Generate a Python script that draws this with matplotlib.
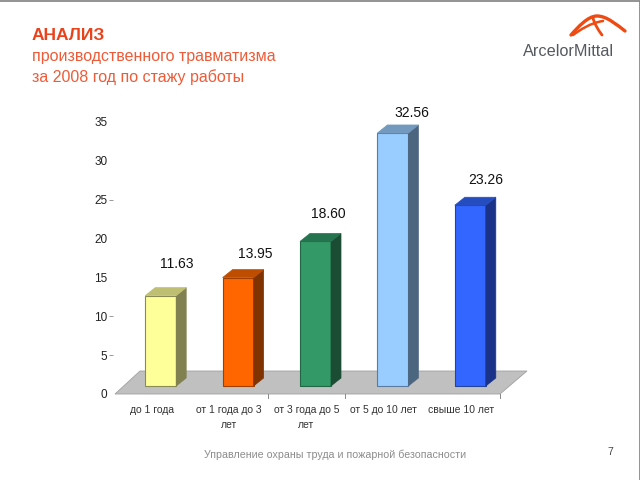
import matplotlib
matplotlib.use("Agg")
import matplotlib.pyplot as plt
from matplotlib.patches import Polygon, PathPatch
from matplotlib.path import Path
from matplotlib.transforms import ScaledTranslation, offset_copy

plt.rcParams['font.family'] = ['Liberation Sans', 'DejaVu Sans']

categories = ["до 1 года", "от 1 года до 3\nлет", "от 3 года до 5\nлет", "от 5 до 10 лет", "свыше 10 лет"]
values = [11.63, 13.95, 18.60, 32.56, 23.26]
value_labels = ["11.63", "13.95", "18.60", "32.56", "23.26"]
front_colors = ["#FFFF99", "#FF6600", "#339966", "#99CCFF", "#3366FF"]
top_colors = ["#BFBF73", "#BF4D00", "#267350", "#7399BF", "#264DBF"]
side_colors = ["#808050", "#803300", "#1A4D33", "#4D6680", "#1A3388"]
edge_colors = ["#8A8A55", "#A04000", "#226644", "#5A7AA0", "#224499"]
y_ticks = [0, 5, 10, 15, 20, 25, 30, 35]
visible_tick_values = [5, 10, 25]
label_nudge_x = [-1, 0, -4, 2, -2]
label_nudge_y = [6, -2, 2, -5, 0]

W, H = 640, 480
fig = plt.figure(figsize=(6.4, 4.8), dpi=100, facecolor="white")

# page layer in pixel coordinates
bg = fig.add_axes([0, 0, 1, 1])
bg.set_xlim(0, W); bg.set_ylim(H, 0); bg.axis("off")
bg.plot([0, W, W], [0.5, 0.5, H], color="#808080", lw=1.2)
bg.text(32, 35.5, "АНАЛИЗ", color="#EA431C", fontsize=12.5, fontweight="bold", ha="left", va="center")
bg.text(32, 57, "производственного травматизма", color="#EE5B38", fontsize=11.55, ha="left", va="center")
bg.text(32, 77, "за 2008 год по стажу работы", color="#EE5B38", fontsize=11.55, ha="left", va="center")
bg.text(335, 455, "Управление охраны труда и пожарной безопасности", color="#8C8C8C", fontsize=7.7, ha="center", va="center")
bg.text(610, 452, "7", color="#444444", fontsize=7.5, ha="center", va="center")
# logo
C4 = Path.CURVE4
swoosh = Path([(571, 35), (578, 27), (588, 16), (597, 16), (607, 16), (617, 25), (625, 31)],
              [Path.MOVETO, C4, C4, C4, C4, C4, C4])
bg.add_patch(PathPatch(swoosh, fc="none", ec="#EE4A12", lw=2.4, capstyle="round"))
under = Path([(573, 35), (580, 30), (590, 23), (603, 21)], [Path.MOVETO, C4, C4, C4])
bg.add_patch(PathPatch(under, fc="none", ec="#EE4A12", lw=1.8, capstyle="round"))
stroke = Path([(593, 18), (595, 26), (602, 35)], [Path.MOVETO, Path.CURVE3, Path.CURVE3])
bg.add_patch(PathPatch(stroke, fc="none", ec="#EE4A12", lw=2.0, capstyle="round"))
bg.text(568.5, 52, "ArcelorMittal", color="#555A60", fontsize=11.7, ha="center", va="center")

# chart
ax = fig.add_axes([113 / W, 1 - 394 / H, (500 - 113) / W, (394 - 122) / H])
ax.patch.set_alpha(0)
ax.set_xlim(-0.5, 4.5)
ax.set_ylim(0, 35)
for s in ax.spines.values():
    s.set_visible(False)

px_per_x = (500 - 113) / 5
px_per_y = (394 - 122) / 35
depth_x, depth_y = 10 / px_per_x, 8 / px_per_y
shift = ax.transData + ScaledTranslation(9 / 100, 8 / 100, fig.dpi_scale_trans)
bar_w = 31 / px_per_x

# floor
x0 = -0.5 + 2 / px_per_x
fx = 25 / px_per_x
fx_r = 27 / px_per_x
fh = 23 / px_per_y
ax.add_patch(Polygon([(x0, 0), (x0 + fx, fh), (4.5 + fx_r, fh), (4.5, 0)], closed=True,
                     fc="#C0C0C0", ec="#A0A0A0", lw=0.6, clip_on=False, zorder=1))

for i, v in enumerate(values):
    l, r = i - bar_w / 2, i + bar_w / 2
    ax.bar(i, v, width=bar_w, color=front_colors[i], edgecolor=edge_colors[i], linewidth=0.8,
           transform=shift, zorder=3)
    ax.add_patch(Polygon([(r, 0), (r + depth_x, depth_y), (r + depth_x, v + depth_y), (r, v)], closed=True,
                         fc=side_colors[i], ec=side_colors[i], lw=0.5, transform=shift, zorder=3, clip_on=False))
    ax.add_patch(Polygon([(l, v), (l + depth_x, v + depth_y), (r + depth_x, v + depth_y), (r, v)], closed=True,
                         fc=top_colors[i], ec=top_colors[i], lw=0.5, transform=shift, zorder=3, clip_on=False))
    lab_tr = offset_copy(shift, fig=fig, x=(12 + label_nudge_x[i]), y=label_nudge_y[i], units="dots")
    ax.text(i + depth_x / 2, v + depth_y + 0.2 / px_per_y + 1.3, value_labels[i], transform=lab_tr,
            ha="center", va="bottom", fontsize=10, color="#111111", clip_on=False, zorder=4)

ax.set_yticks(y_ticks)
ax.set_yticklabels([str(t) for t in y_ticks], fontsize=8.5, color="#222222")
ax.tick_params(axis="y", length=3, width=0.6, pad=1, color="#888888")
for t, val in zip(ax.yaxis.get_major_ticks(), y_ticks):
    t.tick1line.set_visible(val in visible_tick_values)

ax.set_xticks(range(5))
ax.set_xticklabels(categories, fontsize=7.5, color="#333333", linespacing=1.6)
ax.tick_params(axis="x", length=0, pad=8)
for b in [1.5, 2.5, 4.5]:
    ax.plot([b, b], [0, -4 / px_per_y], color="#888888", lw=0.7, clip_on=False, zorder=2)

fig.savefig("out.png", dpi=100)
